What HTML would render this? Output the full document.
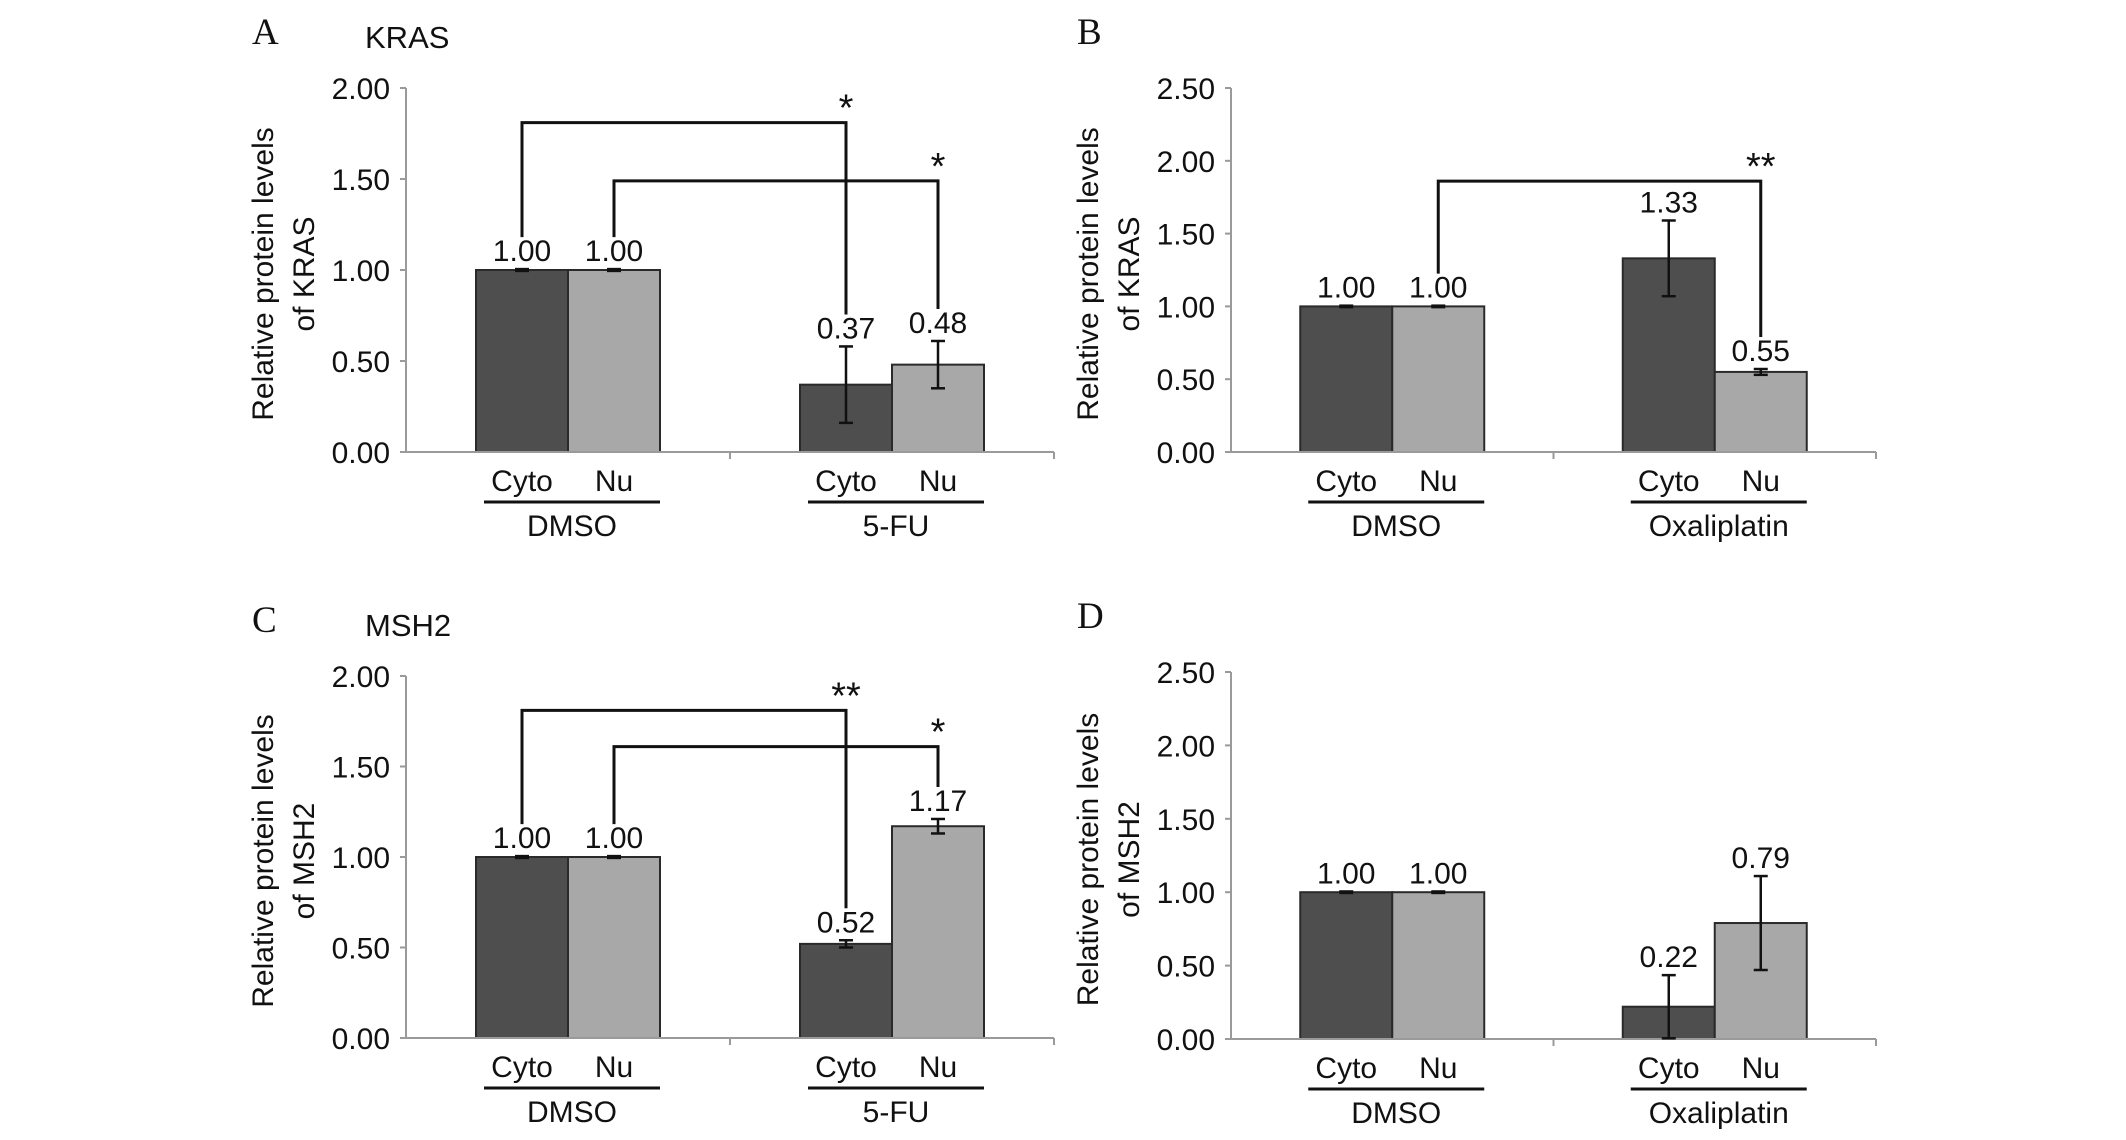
<!DOCTYPE html>
<html><head><meta charset="utf-8">
<style>
html,body{margin:0;padding:0;background:#fff;}
svg{display:block;}
text{font-family:"Liberation Sans",Arial,sans-serif;fill:#111;}
.serif{font-family:"Liberation Serif","Times New Roman",serif;}
</style></head>
<body>
<svg id="fig" width="2126" height="1140" viewBox="0 0 2126 1140" xmlns="http://www.w3.org/2000/svg"></svg>
<script>
// ---- data ----
const seriesNames = ["Cyto", "Nu"];
const groupsA = ["DMSO", "5-FU"];
const valuesA = [[1.00, 1.00], [0.37, 0.48]];
const errorsA = [[0.005, 0.005], [0.21, 0.13]];
const groupsB = ["DMSO", "Oxaliplatin"];
const valuesB = [[1.00, 1.00], [1.33, 0.55]];
const errorsB = [[0.005, 0.005], [0.26, 0.02]];
const groupsC = ["DMSO", "5-FU"];
const valuesC = [[1.00, 1.00], [0.52, 1.17]];
const errorsC = [[0.005, 0.005], [0.02, 0.04]];
const groupsD = ["DMSO", "Oxaliplatin"];
const valuesD = [[1.00, 1.00], [0.22, 0.79]];
const errorsD = [[0.005, 0.005], [0.215, 0.32]];
const ticksA = [0, 0.5, 1.0, 1.5, 2.0];
const ticksB = [0, 0.5, 1.0, 1.5, 2.0, 2.5];
// brackets: [fromGroup, fromSeries, toGroup, toSeries, heightValue, label]
const bracketsA = [[0,0,1,0,1.81,"*"],[0,1,1,1,1.49,"*"]];
const bracketsB = [[0,1,1,1,1.86,"**"]];
const bracketsC = [[0,0,1,0,1.81,"**"],[0,1,1,1,1.61,"*"]];
const bracketsD = [];

const NS = "http://www.w3.org/2000/svg";
const svg = document.getElementById("fig");
function mk(tag, attrs, parent){
  const e = document.createElementNS(NS, tag);
  for (const k in attrs) e.setAttribute(k, attrs[k]);
  (parent||svg).appendChild(e);
  return e;
}

function panel(cfg){
  const g = mk("g", {});
  
  
  const yMax = cfg.ticks[cfg.ticks.length-1];
  const y = v => cfg.y0 - (v / yMax) * (cfg.y0 - cfg.yTop);
  const catW = (cfg.x1 - cfg.x0) / cfg.groups.length;
  const bw = 92;
  const cx = i => cfg.x0 + catW * (i + 0.5);
  const bx = (i, s) => cx(i) - bw + s * bw;

  const L = mk("text", {x: cfg.x0 - 154, y: cfg.yTop - 44, "font-size": 37, class: "serif"}, g);
  L.textContent = cfg.letter;
  
  
  if (cfg.title){
    const T = mk("text", {x: cfg.x0 - 41, y: cfg.yTop - 40, "font-size": 31}, g);
    T.textContent = cfg.title;
    
    
  }
  const cy = (cfg.yTop + cfg.y0) / 2 + 4;
  const yt = mk("text", {transform: `translate(${cfg.x0-133},${cy}) rotate(-90)`, "text-anchor": "middle", "font-size": 30}, g);
  
  
  const t1 = mk("tspan", {x: 0, y: 0}, yt); t1.textContent = "Relative protein levels";
  const t2 = mk("tspan", {x: 0, y: 41}, yt); t2.textContent = "of " + cfg.protein;

  const ya = mk("line", {x1: cfg.x0, y1: cfg.yTop, x2: cfg.x0, y2: cfg.y0, stroke: "#9a9a9a", "stroke-width": 2}, g);
  
  
  cfg.ticks.forEach(t => {
    const tk = mk("line", {x1: cfg.x0 - 6, y1: y(t), x2: cfg.x0, y2: y(t), stroke: "#9a9a9a", "stroke-width": 2}, g);
    
    
    const tl = mk("text", {x: cfg.x0 - 16, y: y(t) + 11, "text-anchor": "end", "font-size": 30}, g);
    tl.textContent = t.toFixed(2);
    
    
  });

  cfg.values.forEach((row, i) => {
    row.forEach((v, s) => {
      const r = mk("rect", {x: bx(i, s), y: y(v), width: bw, height: cfg.y0 - y(v), fill: s === 0 ? "#4e4e4e" : "#a8a8a8", stroke: "#2a2a2a", "stroke-width": 2}, g);
      
      
    });
  });
  const xa = mk("line", {x1: cfg.x0, y1: cfg.y0, x2: cfg.x1, y2: cfg.y0, stroke: "#9a9a9a", "stroke-width": 2}, g);
  
  
  for (let k = 1; k <= cfg.groups.length; k++){
    const xt = mk("line", {x1: cfg.x0 + catW*k, y1: cfg.y0, x2: cfg.x0 + catW*k, y2: cfg.y0 + 7, stroke: "#9a9a9a", "stroke-width": 2}, g);
    
    
  }

  const labelTop = [];
  cfg.values.forEach((row, i) => {
    labelTop.push([]);
    row.forEach((v, s) => {
      const e = cfg.errors[i][s];
      const xc = bx(i, s) + bw/2;
      const eg = mk("g", {stroke: "#111", "stroke-width": 2.5}, g);
      
      
      mk("line", {x1: xc, y1: y(v+e), x2: xc, y2: y(Math.max(0, v-e))}, eg);
      mk("line", {x1: xc-7, y1: y(v+e), x2: xc+7, y2: y(v+e)}, eg);
      mk("line", {x1: xc-7, y1: y(Math.max(0, v-e)), x2: xc+7, y2: y(Math.max(0, v-e))}, eg);
      const top = Math.min(y(v), y(v+e));
      const vl = mk("text", {x: xc, y: top - 8, "text-anchor": "middle", "font-size": 30}, g);
      vl.textContent = v.toFixed(2);
      
      
      labelTop[i][s] = top - 8 - 24;
    });
  });

  cfg.brackets.forEach(b => {
    const xa1 = bx(b[0], b[1]) + bw/2, xa2 = bx(b[2], b[3]) + bw/2;
    const yb = y(b[4]);
    const bg = mk("path", {d: `M${xa1},${labelTop[b[0]][b[1]]} V${yb} H${xa2} V${labelTop[b[2]][b[3]]}`, fill: "none", stroke: "#111", "stroke-width": 3}, g);
    
    
    const st = mk("text", {x: xa2, y: yb - 2, "text-anchor": "middle", "font-size": 38}, g);
    st.textContent = b[5];
    
    
  });

  cfg.groups.forEach((gname, i) => {
    seriesNames.forEach((sn, s) => {
      const cl = mk("text", {x: bx(i, s) + bw/2, y: cfg.y0 + 39, "text-anchor": "middle", "font-size": 30}, g);
      cl.textContent = sn;
      
      
    });
    const ul = mk("line", {x1: cx(i) - 84, y1: cfg.y0 + 50, x2: cx(i) + 92, y2: cfg.y0 + 50, stroke: "#111", "stroke-width": 3}, g);
    
    
    const gl = mk("text", {x: cx(i) + 4, y: cfg.y0 + 84, "text-anchor": "middle", "font-size": 30}, g);
    gl.textContent = gname;
    
    
  });
}

panel({letter: "A", title: "KRAS", protein: "KRAS", x0: 406, x1: 1054, yTop: 88, y0: 452, ticks: ticksA, groups: groupsA, values: valuesA, errors: errorsA, brackets: bracketsA});
panel({letter: "B", title: "", protein: "KRAS", x0: 1231, x1: 1876, yTop: 88, y0: 452, ticks: ticksB, groups: groupsB, values: valuesB, errors: errorsB, brackets: bracketsB});
panel({letter: "C", title: "MSH2", protein: "MSH2", x0: 406, x1: 1054, yTop: 676, y0: 1038, ticks: ticksA, groups: groupsC, values: valuesC, errors: errorsC, brackets: bracketsC});
panel({letter: "D", title: "", protein: "MSH2", x0: 1231, x1: 1876, yTop: 672, y0: 1039, ticks: ticksB, groups: groupsD, values: valuesD, errors: errorsD, brackets: bracketsD});
</script>
</body></html>
